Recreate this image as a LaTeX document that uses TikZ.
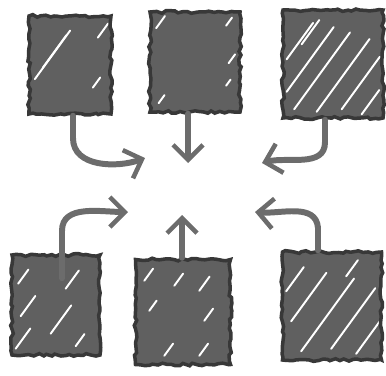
\documentclass[tikz,border=0pt]{standalone}
\usetikzlibrary{arrows.meta,decorations.pathmorphing}
\definecolor{sketchGrey}{RGB}{96,96,96}
\definecolor{sketchDark}{RGB}{56,56,56}
\definecolor{sketchLine}{RGB}{108,108,108}

\begin{document}
\begin{tikzpicture}[
  tile/.style={
    draw=sketchDark,
    fill=sketchGrey,
    line width=2pt,
    decorate,
    decoration={random steps,segment length=2.5pt,amplitude=0.8pt}
  },
  hatch/.style={
    path picture={
      \foreach \hx/\hy/\hl in {#1}
        \draw[white,line width=1.1pt,line cap=round]
          ([shift={(\hx,\hy)}]path picture bounding box.south west) -- ++(54:\hl);
    }
  },
  flow/.style={
    -{Straight Barb[length=3mm,width=6mm,line width=2.6pt]},
    line width=3.4pt,
    sketchLine,
    line cap=round
  }
]
  \useasboundingbox (0,0) rectangle (7.72,7.5);

  % top row
  \node[tile,minimum width=1.64cm,minimum height=1.96cm,
    hatch={0.14/0.72/1.2,0.30/0.95/0.8,1.40/1.55/0.35,1.30/0.55/0.25}] (tl) at (1.40,6.20) {};
  \node[tile,minimum width=1.80cm,minimum height=2.00cm,
    hatch={0.15/1.7/0.3,1.55/1.75/0.2,1.6/1.0/0.22,1.55/0.55/0.15,0.2/0.2/0.2}] (tm) at (3.90,6.26) {};
  \node[tile,minimum width=2.00cm,minimum height=2.16cm,
    hatch={0.1/1.2/0.9,0.1/0.55/1.6,0.25/0.2/1.9,0.7/0.15/1.8,1.2/0.2/1.3,1.6/0.1/0.6,0.4/1.5/0.6}] (tr) at (6.66,6.22) {};

  % bottom row
  \node[tile,minimum width=1.76cm,minimum height=2.00cm,
    hatch={0.15/1.45/0.35,1.1/1.35/0.45,0.2/0.8/0.5,0.8/0.45/0.7,0.1/0.15/0.5,1.3/0.2/0.3}] (bl) at (1.12,1.40) {};
  \node[tile,minimum width=1.90cm,minimum height=2.10cm,
    hatch={0.2/1.7/0.3,0.8/1.6/0.3,1.3/1.5/0.35,0.3/1.1/0.25,1.4/0.9/0.3,0.6/0.2/0.3,1.3/0.2/0.3}] (bm) at (3.66,1.26) {};
  \node[tile,minimum width=1.98cm,minimum height=2.16cm,
    hatch={0.1/1.4/0.6,0.2/0.8/1.2,0.4/0.2/1.8,1.0/0.25/1.5,1.5/0.15/0.9,1.3/1.7/0.4}] (br) at (6.64,1.38) {};

  % arrow ends, all round the middle
  \coordinate (t1) at (2.90,4.34);
  \coordinate (t2) at (3.76,4.24);
  \coordinate (t3) at (5.24,4.24);
  \coordinate (t4) at (2.56,3.26);
  \coordinate (t5) at (3.64,3.20);
  \coordinate (t6) at (5.10,3.26);

  \draw[flow] ([xshift=0.06cm]tl.south) -- ++(0,-0.45) to[out=-90,in=200] (t1);
  \draw[flow] (tm.south -| t2) -- (t2);
  \draw[flow] ([xshift=-0.16cm]tr.south) -- ++(0,-0.45) to[out=-90,in=15] (t3);
  \draw[flow] ([shift={(0.12,-0.5)}]bl.north) -- ++(0,0.95) to[out=90,in=180] (t4);
  \draw[flow] (bm.north -| t5) -- (t5);
  \draw[flow] ([xshift=-0.28cm]br.north) -- ++(0,0.45) to[out=95,in=-5] (t6);
\end{tikzpicture}
\end{document}
